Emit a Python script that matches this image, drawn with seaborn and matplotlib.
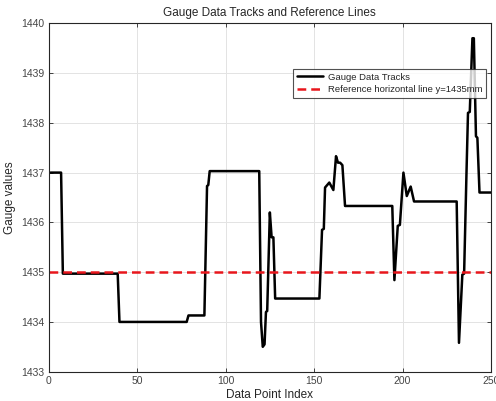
import matplotlib
matplotlib.use("Agg")
import matplotlib.pyplot as plt
import seaborn as sns
import pandas as pd

# vertices of the gauge track (index, value)
idx = [1, 7, 8, 39, 40, 78, 79, 88, 89.5, 90.2, 91, 119, 120, 121, 122, 122.8, 123.5,
       125, 126, 127, 128, 153, 154.5, 155.5, 156.2, 158.6, 160.9, 162.4, 163.5, 164.7,
       166, 167.5, 194.2, 195.4, 197.3, 198.5, 200.5, 202.4, 204.6, 206.5, 230.6,
       231.9, 233.8, 234.8, 236.1, 237, 238, 239.5, 240.3, 241.5, 242.3, 243.5, 250]
gauge = [1437.0, 1437.0, 1434.97, 1434.97, 1434.0, 1434.0, 1434.13, 1434.13, 1436.73,
         1436.75, 1437.03, 1437.03, 1434.0, 1433.5, 1433.55, 1434.2, 1434.22,
         1436.2, 1435.7, 1435.7, 1434.47, 1434.47, 1435.85, 1435.87, 1436.7, 1436.8,
         1436.65, 1437.33, 1437.2, 1437.2, 1437.15, 1436.33, 1436.33, 1434.84, 1435.93,
         1435.95, 1437.0, 1436.53, 1436.72, 1436.42, 1436.42, 1433.58, 1434.95,
         1434.97, 1436.93, 1438.2, 1438.22, 1439.7, 1439.7, 1437.73, 1437.7, 1436.6,
         1436.6]
ref_value = 1435

df = pd.DataFrame({"Data Point Index": idx, "Gauge values": gauge})

sns.set_style("whitegrid")
plt.rcParams["font.family"] = ["Liberation Sans", "DejaVu Sans"]
txt = "#262626"
tick_txt = "#454545"

fig = plt.figure(figsize=(4.96, 4.01), dpi=100)
ax = fig.add_axes([48.7 / 496, 1 - 371.7 / 401, (491 - 48.7) / 496, (371.7 - 23.3) / 401])

sns.lineplot(data=df, x="Data Point Index", y="Gauge values", ax=ax, color="black",
             linewidth=1.8, label="Gauge Data Tracks")
ax.axhline(ref_value, color="#e8161c", linestyle=(0, (3.5, 2)), linewidth=1.8,
           label="Reference horizontal line y=1435mm")

ax.set_xlim(0, 250)
ax.set_ylim(1433, 1440)
ax.set_xticks([0, 50, 100, 150, 200, 250])
ax.set_yticks(range(1433, 1441))
ax.ticklabel_format(axis="y", useOffset=False, style="plain")
ax.grid(True, color="#e3e3e3", linewidth=0.7)
for s in ax.spines.values():
    s.set_color("#262626")
    s.set_linewidth(0.8)
    s.set_visible(True)
ax.tick_params(direction="in", length=3, width=0.6, colors="#262626", labelcolor=tick_txt,
               labelsize=7.5, top=True, right=True, left=True, bottom=True, pad=3)
ax.set_xlabel("Data Point Index", fontsize=8.5, color=txt, labelpad=2)
ax.set_ylabel("Gauge values", fontsize=8.5, color=txt, labelpad=4)
ax.set_title("Gauge Data Tracks and Reference Lines", fontsize=8.5, color=txt, pad=5)

leg = ax.legend(loc="upper left", bbox_to_anchor=((293.3 - 48.7) / 442.3, 1 - (69.3 - 23.3) / 348.4),
                fontsize=6.8, frameon=True, fancybox=False, handlelength=2.8,
                borderpad=0.35, labelspacing=0.4, handletextpad=0.5, borderaxespad=0)
leg.get_frame().set_edgecolor("#262626")
leg.get_frame().set_linewidth(0.8)
for t in leg.get_texts():
    t.set_color(txt)

fig.savefig("out.png", dpi=100)
